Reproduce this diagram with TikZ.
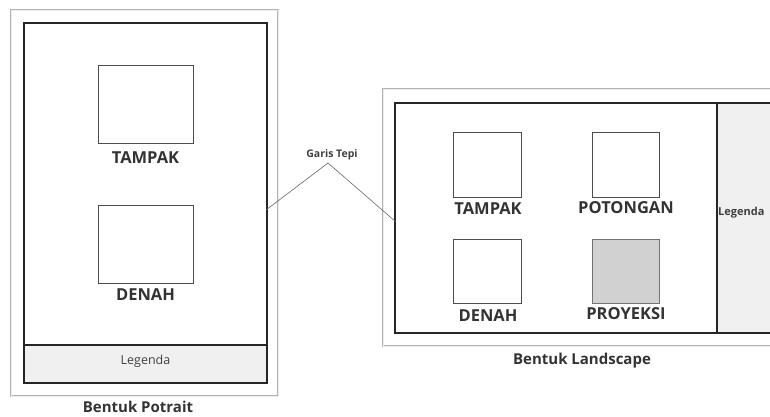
\documentclass[tikz,border=0pt]{standalone}
\usepackage{fontspec}
\setmainfont{Open Sans}
\begin{document}
\begin{tikzpicture}[x=1pt,y=-1pt,
  outerframe/.style={draw=gray!60,line width=1.6pt},
  outerinner/.style={draw=gray!15,line width=0.4pt},
  innerframe/.style={draw=black!85,line width=1.8pt},
  viewbox/.style={draw=black!70,line width=1pt,fill=white},
  viewlabel/.style={font=\bfseries\fontsize{16.5}{16.5}\selectfont,text=black!80},
  caption/.style={font=\bfseries\fontsize{15}{15}\selectfont,text=black!80},
  legtext/.style={font=\fontsize{12.5}{12.5}\selectfont,text=black!75},
  leader/.style={draw=black!60,line width=0.6pt}]
\useasboundingbox (0,0) rectangle (770,416);
\clip (0,0) rectangle (770,416);
% ---------- Portrait ----------
\draw[outerframe] (11,10) rectangle (278,396);
\draw[outerinner] (11,10) rectangle (278,396);
\fill[black!6] (24,345) rectangle (267,383);
\draw[innerframe] (24,23) rectangle (267,383);
\draw[innerframe] (24,345) -- (267,345);
\node[viewbox,minimum width=95pt,minimum height=78pt] (pt) at (145.5,104) {};
\node[viewlabel] (ptl) at (145.5,158) {TAMPAK};
\node[viewbox,minimum width=95pt,minimum height=78pt] (pd) at (145.5,244) {};
\node[viewlabel] (pdl) at (145.5,295) {DENAH};
\node[legtext] (pleg) at (145.5,361) {Legenda};
\node[caption] (pcap) at (138,407) {Bentuk Potrait};
% ---------- Landscape ----------
\draw[outerframe] (383,89) rectangle (800,346);
\draw[outerinner] (383,89) rectangle (800,346);
\fill[black!6] (717,103) rectangle (800,333);
\draw[innerframe] (395,103) rectangle (800,333);
\draw[innerframe] (717,103) -- (717,333);
\node[viewbox,minimum width=68pt,minimum height=65pt] (lt) at (487,164.5) {};
\node[viewlabel] (ltl) at (488,209) {TAMPAK};
\node[viewbox,minimum width=67pt,minimum height=65pt] (lp) at (625.5,164.5) {};
\node[viewlabel] (lpl) at (626,208) {POTONGAN};
\node[viewbox,minimum width=68pt,minimum height=64pt] (ld) at (487,271) {};
\node[viewlabel] (ldl) at (488,316) {DENAH};
\node[viewbox,draw=black!55,fill=black!18,minimum width=67pt,minimum height=64pt] (lpr) at (625.5,271) {};
\node[viewlabel] (lprl) at (626,314) {PROYEKSI};
\node[legtext,font=\bfseries\fontsize{11}{11}\selectfont,anchor=west,inner sep=1pt] (lleg) at (717,213) {Legenda};
\node[caption] (lcap) at (582,361) {Bentuk Landscape};
% ---------- Garis Tepi ----------
\node[font=\bfseries\fontsize{10.5}{10.5}\selectfont,text=black!75] (gt) at (332,155) {Garis Tepi};
\coordinate (gtp) at (328,163);
\coordinate (pe) at (266,210);
\coordinate (le) at (396,222);
\draw[leader] (pe) -- (gtp) -- (le);
\end{tikzpicture}
\end{document}
